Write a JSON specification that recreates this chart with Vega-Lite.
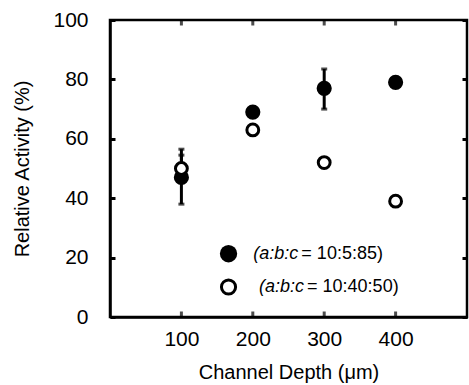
{
  "$schema": "https://vega.github.io/schema/vega-lite/v6.json",
  "width": 357,
  "height": 297,
  "autosize": "none",
  "padding": {"left": 110, "top": 20, "right": 2, "bottom": 68},
  "background": "white",
  "config": {
    "view": {"stroke": "black", "strokeWidth": 2.5},
    "font": "Liberation Sans",
    "axis": {
      "domainColor": "black", "domainWidth": 2.5,
      "tickColor": "black", "tickWidth": 3,
      "labelFont": "Liberation Sans", "labelFontSize": 21, "labelColor": "black",
      "titleFont": "Liberation Sans", "titleFontSize": 20, "titleFontWeight": "normal", "titleColor": "black",
      "grid": false
    }
  },
  "datasets": {
    "points": [
      {"depth": 100, "series": "10:5:85", "activity": 47},
      {"depth": 200, "series": "10:5:85", "activity": 69},
      {"depth": 300, "series": "10:5:85", "activity": 77},
      {"depth": 400, "series": "10:5:85", "activity": 79},
      {"depth": 100, "series": "10:40:50", "activity": 50},
      {"depth": 200, "series": "10:40:50", "activity": 63},
      {"depth": 300, "series": "10:40:50", "activity": 52},
      {"depth": 400, "series": "10:40:50", "activity": 39}
    ],
    "errors": [
      {"depth": 100, "series": "10:5:85", "lo": 38, "hi": 56.5},
      {"depth": 300, "series": "10:5:85", "lo": 70, "hi": 83.5},
      {"depth": 100, "series": "10:40:50", "lo": 46, "hi": 54.5}
    ],
    "xticks": [
      {"depth": 100, "edge": 0}, {"depth": 200, "edge": 0}, {"depth": 300, "edge": 0}, {"depth": 400, "edge": 0},
      {"depth": 100, "edge": 100}, {"depth": 200, "edge": 100}, {"depth": 300, "edge": 100}, {"depth": 400, "edge": 100}
    ],
    "legend": [
      {"lx": 166, "ly": 21.3, "tx": 268, "series": "10:5:85", "ital": "(a:b:c", "rest": "= 10:5:85)"},
      {"lx": 166, "ly": 10.1, "tx": 276, "series": "10:40:50", "ital": "(a:b:c", "rest": "= 10:40:50)"}
    ]
  },
  "layer": [
    {
      "data": {"name": "xticks"},
      "mark": {"type": "tick", "color": "black", "thickness": 3, "size": 11, "orient": "vertical", "clip": true},
      "encoding": {
        "x": {"field": "depth", "type": "quantitative", "scale": {"domain": [3, 497]}, "axis": null},
        "y": {"field": "edge", "type": "quantitative", "scale": {"domain": [0, 100]},
              "axis": {"orient": "right", "values": [0, 20, 40, 60, 80, 100], "labels": false, "title": null, "domain": false, "tickSize": -5}}
      }
    },
    {
      "data": {"name": "errors"},
      "mark": {"type": "rule", "color": "black", "strokeWidth": 3},
      "encoding": {
        "x": {"field": "depth", "type": "quantitative", "axis": null},
        "y": {"field": "lo", "type": "quantitative", "axis": null},
        "y2": {"field": "hi"}
      }
    },
    {
      "data": {"name": "errors"},
      "mark": {"type": "tick", "color": "black", "thickness": 3, "size": 6, "orient": "horizontal"},
      "encoding": {
        "x": {"field": "depth", "type": "quantitative", "axis": null},
        "y": {"field": "lo", "type": "quantitative", "axis": null}
      }
    },
    {
      "data": {"name": "errors"},
      "mark": {"type": "tick", "color": "black", "thickness": 3, "size": 6, "orient": "horizontal"},
      "encoding": {
        "x": {"field": "depth", "type": "quantitative", "axis": null},
        "y": {"field": "hi", "type": "quantitative", "axis": null}
      }
    },
    {
      "data": {"name": "points"},
      "transform": [{"filter": "datum.series === '10:5:85'"}],
      "mark": {"type": "point", "shape": "circle", "filled": true, "color": "black", "size": 230, "opacity": 1},
      "encoding": {
        "x": {"field": "depth", "type": "quantitative",
              "axis": {"orient": "bottom", "values": [100, 200, 300, 400], "ticks": false, "title": "Channel Depth (μm)", "labelPadding": 11, "titlePadding": 13}},
        "y": {"field": "activity", "type": "quantitative",
              "axis": {"orient": "left", "values": [0, 20, 40, 60, 80, 100], "tickSize": -5, "title": "Relative Activity (%)", "labelPadding": 27, "titlePadding": 20}}
      }
    },
    {
      "data": {"name": "points"},
      "transform": [{"filter": "datum.series === '10:40:50'"}],
      "mark": {"type": "point", "shape": "circle", "filled": false, "fill": "white", "stroke": "black", "strokeWidth": 3, "size": 140, "opacity": 1},
      "encoding": {
        "x": {"field": "depth", "type": "quantitative", "axis": null},
        "y": {"field": "activity", "type": "quantitative", "axis": null}
      }
    },
    {
      "data": {"name": "legend"},
      "transform": [{"filter": "datum.series === '10:5:85'"}],
      "mark": {"type": "point", "shape": "circle", "filled": true, "color": "black", "size": 300, "opacity": 1},
      "encoding": {
        "x": {"field": "lx", "type": "quantitative", "axis": null},
        "y": {"field": "ly", "type": "quantitative", "axis": null}
      }
    },
    {
      "data": {"name": "legend"},
      "transform": [{"filter": "datum.series === '10:40:50'"}],
      "mark": {"type": "point", "shape": "circle", "filled": false, "fill": "white", "stroke": "black", "strokeWidth": 3, "size": 200, "opacity": 1},
      "encoding": {
        "x": {"field": "lx", "type": "quantitative", "axis": null},
        "y": {"field": "ly", "type": "quantitative", "axis": null}
      }
    },
    {
      "data": {"name": "legend"},
      "mark": {"type": "text", "align": "right", "baseline": "middle", "fontStyle": "italic", "fontSize": 18, "dx": -3, "color": "black", "font": "Liberation Sans"},
      "encoding": {
        "x": {"field": "tx", "type": "quantitative", "axis": null},
        "y": {"field": "ly", "type": "quantitative", "axis": null},
        "text": {"field": "ital"}
      }
    },
    {
      "data": {"name": "legend"},
      "mark": {"type": "text", "align": "left", "baseline": "middle", "fontSize": 18, "color": "black", "font": "Liberation Sans"},
      "encoding": {
        "x": {"field": "tx", "type": "quantitative", "axis": null},
        "y": {"field": "ly", "type": "quantitative", "axis": null},
        "text": {"field": "rest"}
      }
    }
  ],
  "resolve": {"axis": {"x": "independent", "y": "independent"}}
}
